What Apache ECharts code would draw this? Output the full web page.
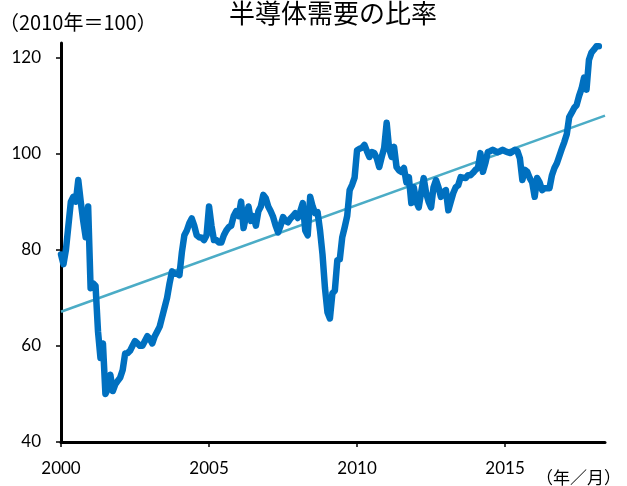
<!DOCTYPE html>
<html>
<head>
<meta charset="utf-8">
<script src="https://cdn.jsdelivr.net/npm/echarts@6/dist/echarts.min.js"></script>
<style>
html,body{margin:0;padding:0;background:#fff;}
#chart{width:627px;height:486px;}
</style>
</head>
<body>
<div id="chart"></div>
<script>
// ---- data (monthly, Jan 2000 .. Mar 2018), 2010 = 100 ----
const startYear = 2000;
const demandIndex = [
  79, 77, 80, 85, 90, 91, 90, 94.5, 90, 86, 82.6, 89,               // 2000
  72, 73, 72.5, 63, 57.5, 60.5, 50, 51, 54, 50.6, 52, 52.7,          // 2001
  53.4, 55, 58.4, 58.5, 59, 60, 61, 60.5, 60, 60, 61, 62,            // 2002
  61.5, 60.5, 62, 63, 64, 66, 68, 70, 73, 75.5, 75, 75,              // 2003
  74.7, 79.5, 83, 84, 85.5, 86.5, 85, 83, 82.6, 82.5, 82, 83,        // 2004
  89, 85, 82, 82, 81.5, 81.5, 83, 84, 84.7, 85, 87, 88,              // 2005
  87, 90, 84.5, 87, 89, 86, 87, 85, 88, 89, 91.4, 90.7,              // 2006
  89, 88, 86.8, 85, 83.6, 85, 86.8, 86, 85.7, 86.5, 87, 87.6,        // 2007
  86.6, 88, 89.7, 84, 83, 91, 89, 87.6, 87.8, 84, 79, 72,            // 2008
  67, 65.7, 70.9, 71.5, 77.8, 78, 82.6, 84.7, 87, 92.4, 93.5, 95,    // 2009
  100.7, 101, 101.2, 101.8, 100.5, 99.3, 100.3, 100.1, 99, 97.2, 99.3, 101.2, // 2010
  106.4, 101, 99.3, 101.4, 97.2, 96.5, 96.2, 97, 94, 95.1, 89.7, 93, // 2011
  90, 88.8, 92, 94.9, 91.8, 90, 88.8, 93, 94.5, 93, 91, 92,          // 2012
  92.4, 88.2, 90, 91.8, 93, 93.4, 95.1, 95, 94.9, 95.5, 95.5, 96,    // 2013
  96.6, 97, 100.1, 96.2, 98, 100.3, 100.5, 100.8, 100.5, 100.3, 100.5, 100.8, // 2014
  100.5, 100.3, 100.1, 100.4, 100.8, 100.5, 99, 94.5, 96.6, 96.2, 94.9, 94,   // 2015
  91, 94.9, 94, 92.4, 92.8, 92.8, 92.8, 95.5, 97, 98, 99.5, 101,     // 2016
  102.4, 104, 107.6, 108.5, 109.5, 110.1, 112, 113.5, 115.8, 113.3, 119.5, 121, // 2017
  121.6, 122.3, 122.3                                                // 2018
];
// linear trend line: values at the two ends of the time axis
const trendYears = [2000, 2018.375];
const trendValues = [67.1, 107.9];
const xTickYears = [2000, 2005, 2010, 2015];
const yTicks = [40, 60, 80, 100, 120];
const titleText = '半導体需要の比率';
const yUnitText = '（2010年＝100）';
const xUnitText = '（年／月）';

const demandSeries = demandIndex.map((v, i) => [startYear + i / 12, v]);
const trendSeries = trendYears.map((y, i) => [y, trendValues[i]]);

const labelFont = 'Lato, "Noto Sans CJK JP", sans-serif';
const jpFont = '"Noto Sans CJK JP", sans-serif';

const chart = echarts.init(document.getElementById('chart'), null, {renderer: 'canvas'});
chart.setOption({
  animation: false,
  backgroundColor: '#ffffff',
  title: {
    text: titleText,
    left: 229, top: 0, padding: 0,
    textStyle: {fontFamily: jpFont, fontSize: 26, fontWeight: 'normal', color: '#000'}
  },
  graphic: [
    {type: 'text', left: -1, top: 12, style: {text: yUnitText, font: '20px ' + jpFont, fill: '#000'}},
    {type: 'text', left: 536, top: 469, style: {text: xUnitText, font: '17px ' + jpFont, fill: '#000'}}
  ],
  grid: {left: 61, right: 22, top: 43, bottom: 44, containLabel: false},
  xAxis: {
    type: 'value',
    min: 2000, max: 2018.375, interval: 5,
    splitLine: {show: false},
    axisLine: {show: true, lineStyle: {color: '#000', width: 3}},
    axisTick: {show: true, inside: false, length: 5, customValues: xTickYears, lineStyle: {color: '#000', width: 1.5}},
    axisLabel: {customValues: xTickYears, margin: 18, fontFamily: labelFont, fontSize: 17, color: '#000',
      formatter: v => String(Math.round(v))}
  },
  yAxis: {
    type: 'value',
    min: 40, max: 123, interval: 20,
    splitLine: {show: false},
    axisLine: {show: true, lineStyle: {color: '#000', width: 3}},
    axisTick: {show: true, inside: false, length: 5, customValues: yTicks, lineStyle: {color: '#000', width: 1.5}},
    axisLabel: {customValues: yTicks, margin: 20, fontFamily: labelFont, fontSize: 17, color: '#000'}
  },
  series: [
    {
      type: 'line', data: trendSeries, showSymbol: false, symbol: 'none',
      lineStyle: {color: '#4BACC6', width: 2.5}, z: 2
    },
    {
      type: 'line', data: demandSeries, showSymbol: false, symbol: 'none',
      lineStyle: {color: '#0070C0', width: 6.5, cap: 'round', join: 'round'}, z: 3
    }
  ]
});
</script>
</body>
</html>
